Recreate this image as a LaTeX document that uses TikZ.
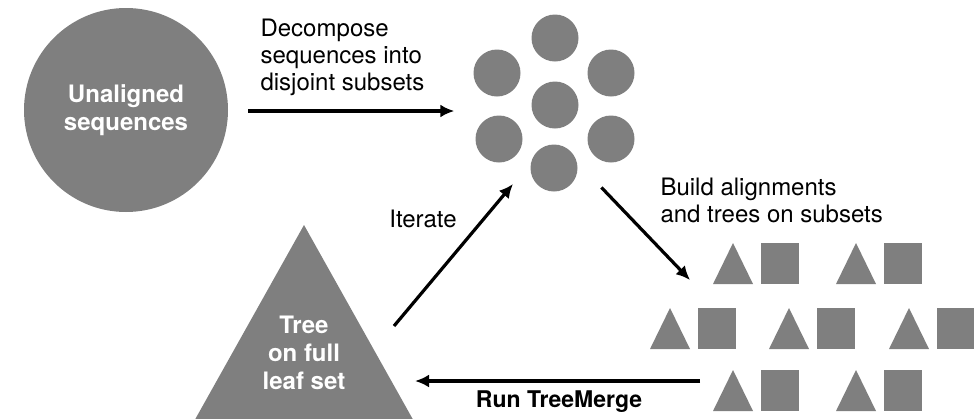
\documentclass[tikz,border=0pt]{standalone}
\usepackage{fontspec}
\setmainfont{TeX Gyre Heros}
\usetikzlibrary{arrows.meta,positioning,calc}
\definecolor{greyfill}{HTML}{7F7F7F}

\begin{document}
\begin{tikzpicture}[x=1pt,y=-1pt,>=Latex,
blob/.style={circle,fill=greyfill,inner sep=0pt},
inlabel/.style={text=white,font=\fontsize{24}{28}\selectfont\bfseries,align=center},
note/.style={font=\fontsize{24}{27}\selectfont,align=left,anchor=west},
flow/.style={line width=3.2pt,-{Latex[length=14pt,width=13pt]}}]
\useasboundingbox (0,0) rectangle (974,418);
% unaligned sequences
\node[blob,minimum size=204pt] (seqs) at (126,110) {};
\node[inlabel] at (seqs) {Unaligned\\sequences};
% disjoint subsets
\node[blob,minimum size=47pt] (c1) at (555,38) {};
\node[blob,minimum size=47pt] (c2) at (497,73) {};
\node[blob,minimum size=47pt] (c3) at (611,73) {};
\node[blob,minimum size=47pt] (c4) at (555,105) {};
\node[blob,minimum size=47pt] (c5) at (499,139) {};
\node[blob,minimum size=47pt] (c6) at (611,139) {};
\node[blob,minimum size=47pt] (c7) at (554,168) {};
% alignments and trees on subsets
\foreach \x/\y in {713/243,836/243,650/308,769/308,889/308,713/370,836/370}{
  \fill[greyfill] (\x,\y+41) -- (\x+20,\y) -- (\x+40,\y+41) -- cycle;
  \fill[greyfill] (\x+48,\y) rectangle ++(38,41);
}
\coordinate (sub) at (713,280);
\coordinate (subw) at (713,381);
% tree on full leaf set
\fill[greyfill] (304,225) -- (425,441) -- (183,441) -- cycle;
\node[inlabel] (tree) at (304,353) {Tree\\on full\\leaf set};
% connectors
\draw[flow] ([xshift=20pt]seqs.east|-0,111) -- ([xshift=-19pt]c2.west|-0,111);
\node[note] (dec) at (257,57) {Decompose\\sequences into\\disjoint subsets};
\draw[flow,shorten <=2pt] ($(c7)+(46,18)$) -- ($(sub)+(-23,0)$);
\node[note] (build) at (657,200) {Build alignments\\and trees on subsets};
\draw[flow] ([xshift=-13pt]subw) -- ($(tree)+(111,28)$);
\node[font=\fontsize{23}{27}\selectfont\bfseries] (run) at (559,402) {Run TreeMerge};
\draw[flow] ($(tree)+(90,-27)$) -- ($(c5)+(14,45)$);
\node[font=\fontsize{24}{27}\selectfont] (iter) at (423,219) {Iterate};
\end{tikzpicture}
\end{document}
